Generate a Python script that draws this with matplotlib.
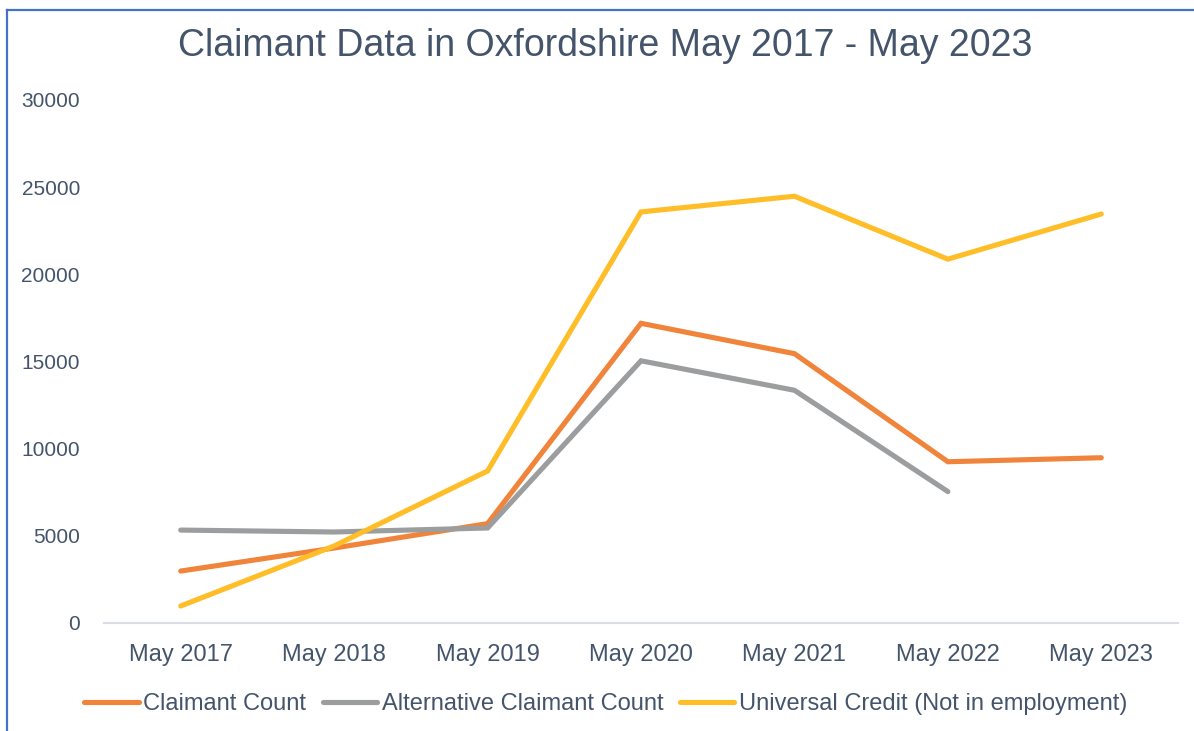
import matplotlib
matplotlib.use("Agg")
import matplotlib.pyplot as plt
from matplotlib.lines import Line2D

categories = ["May 2017", "May 2018", "May 2019", "May 2020", "May 2021", "May 2022", "May 2023"]
claimant_count = [2980, 4300, 5700, 17190, 15450, 9250, 9480]
alternative_claimant_count = [5330, 5220, 5450, 15040, 13350, 7540, None]
universal_credit = [975, 4420, 8720, 23580, 24480, 20870, 23460]
yticks = [0, 5000, 10000, 15000, 20000, 25000, 30000]

series_names = ["Claimant Count", "Alternative Claimant Count", "Universal Credit (Not in employment)"]
series_colors = ["#F0843A", "#9B9D9E", "#FFBE28"]

text_color = "#44546A"
plt.rcParams['font.family'] = ['Liberation Sans', 'DejaVu Sans']

fig = plt.figure(figsize=(11.94, 7.31), dpi=100)
ax = fig.add_axes([104/1194, 1-623/731, (1178-104)/1194, (623-100)/731])

x = list(range(len(categories)))
for vals, name, col in zip([claimant_count, alternative_claimant_count, universal_credit], series_names, series_colors):
    xs = [i for i, v in zip(x, vals) if v is not None]
    ys = [v for v in vals if v is not None]
    ax.plot(xs, ys, color=col, lw=3.7, label=name, solid_capstyle='round', solid_joinstyle='miter')

ax.set_xlim(-0.5, len(categories) - 0.5)
ax.set_ylim(0, 30000)
ax.set_yticks(yticks)
ax.set_yticklabels([str(v) for v in yticks])
ax.set_xticks(x)
ax.set_xticklabels(categories)
for s in ["top", "right", "left"]:
    ax.spines[s].set_visible(False)
ax.spines["bottom"].set_color("#D9DEE4")
ax.spines["bottom"].set_linewidth(1.5)
ax.tick_params(axis='both', length=0, labelcolor=text_color)
ax.tick_params(axis='y', pad=17.3, labelsize=15)
ax.tick_params(axis='x', pad=15, labelsize=17)

fig.text(605/1194, 1-46/731, "Claimant Data in Oxfordshire May 2017 - May 2023",
         ha='center', va='center', fontsize=27, color=text_color)

leg = fig.legend(loc='center', bbox_to_anchor=(606/1194, 1-704/731), ncol=3, frameon=False,
                 fontsize=17, handlelength=2.3, handletextpad=0.2, columnspacing=0.7,
                 labelcolor=text_color)

fig.add_artist(Line2D([7/1194, 7/1194], [0, 1-10/731], transform=fig.transFigure, color="#4472C4", lw=1.6))
fig.add_artist(Line2D([7/1194, 1], [1-10/731, 1-10/731], transform=fig.transFigure, color="#4472C4", lw=1.6))

fig.savefig("out.png", dpi=100, facecolor="white")
